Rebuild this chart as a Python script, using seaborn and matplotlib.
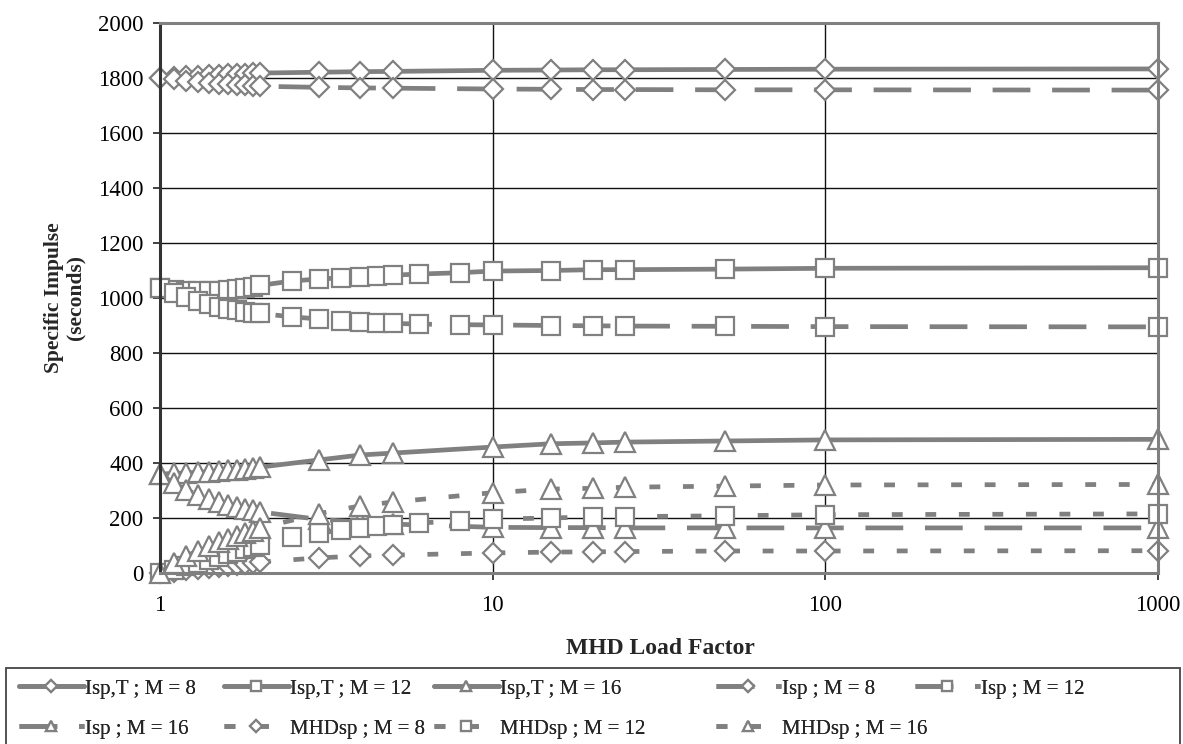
import numpy as np
import pandas as pd
import matplotlib
matplotlib.use("Agg")
import matplotlib.pyplot as plt
import seaborn as sns
from matplotlib.patches import Rectangle

# ---------------- data ----------------
x_m8 = [1, 1.1, 1.2, 1.3, 1.4, 1.5, 1.6, 1.7, 1.8, 1.9, 2, 3, 4, 5, 10, 15, 20, 25, 50, 100, 1000]
x_m16 = x_m8
x_m12 = [1, 1.1, 1.2, 1.3, 1.4, 1.5, 1.6, 1.7, 1.8, 1.9, 2, 2.5, 3, 3.5, 4, 4.5, 5, 6, 8, 10, 15, 20, 25, 50, 100, 1000]

ispt_m8 = [1800, 1803, 1806, 1808, 1810, 1812, 1813, 1815, 1816, 1817, 1818, 1821, 1823, 1824, 1828, 1829, 1830, 1830, 1831, 1832, 1833]
isp_m8 = [1800, 1795, 1790, 1786, 1782, 1779, 1777, 1775, 1773, 1771, 1770, 1766, 1764, 1763, 1760, 1759, 1758, 1758, 1757, 1757, 1756]
mhd_m8 = [0, 5, 10, 14, 18, 22, 26, 29, 33, 36, 40, 55, 62, 65, 73, 76, 77, 78, 80, 80, 81]

ispt_m12 = [1035, 1030, 1027, 1025, 1025, 1026, 1029, 1032, 1036, 1041, 1046, 1062, 1069, 1073, 1077, 1080, 1083, 1087, 1092, 1098, 1100, 1103, 1103, 1105, 1108, 1110]
isp_m12 = [1035, 1018, 1002, 988, 977, 968, 961, 955, 950, 947, 944, 931, 924, 917, 913, 910, 908, 905, 903, 902, 900, 899, 898, 897, 896, 895]
mhd_m12 = [0, 12, 25, 37, 48, 58, 68, 77, 86, 94, 102, 131, 145, 156, 164, 170, 175, 182, 189, 196, 200, 204, 205, 208, 212, 215]

ispt_m16 = [360, 362, 364, 366, 368, 371, 373, 376, 379, 382, 385, 411, 429, 436, 458, 470, 473, 476, 480, 484, 486]
isp_m16 = [360, 327, 302, 285, 270, 258, 248, 240, 234, 228, 222, 195, 185, 178, 166, 165, 165, 164, 164, 164, 164]
mhd_m16 = [0, 35, 62, 81, 98, 113, 125, 136, 145, 154, 163, 216, 244, 258, 292, 305, 308, 312, 316, 320, 322]

series_labels = ["Isp,T ; M = 8", "Isp,T ; M = 12", "Isp,T ; M = 16",
                 "Isp ; M = 8", "Isp ; M = 12", "Isp ; M = 16",
                 "MHDsp ; M = 8", "MHDsp ; M = 12", "MHDsp ; M = 16"]

x_ticks = [1, 10, 100, 1000]
x_ticklabels = ["1", "10", "100", "1000"]
y_ticks = [0, 200, 400, 600, 800, 1000, 1200, 1400, 1600, 1800, 2000]

# ---------------- style ----------------
sns.set_theme(style="white")
plt.rcParams['font.family'] = ['Liberation Serif', 'DejaVu Serif']

GREY = "#808080"
LW = 3.4
solid = "-"
dashed = (0, (8.0, 4.6))
dotted = (0, (2.3, 4.8))

fig = plt.figure(figsize=(11.83, 7.44), dpi=100)
ax = fig.add_axes([160 / 1183, 1 - 573 / 744, (1158 - 160) / 1183, (573 - 23) / 744])

specs = [
    (x_m8, ispt_m8, "D", solid, 10.3),
    (x_m12, ispt_m12, "s", solid, 12.3),
    (x_m16, ispt_m16, "^", solid, 13.8),
    (x_m8, isp_m8, "D", dashed, 10.3),
    (x_m12, isp_m12, "s", dashed, 12.3),
    (x_m16, isp_m16, "^", dashed, 13.8),
    (x_m8, mhd_m8, "D", dotted, 10.3),
    (x_m12, mhd_m12, "s", dotted, 12.3),
    (x_m16, mhd_m16, "^", dotted, 13.8),
]

for (xs, ys, mk, ls, ms), lab in zip(specs, series_labels):
    df = pd.DataFrame({"x": xs, "y": ys})
    sns.lineplot(data=df, x="x", y="y", ax=ax, color=GREY, linewidth=LW,
                 linestyle=ls, marker=mk, markersize=ms,
                 markerfacecolor="white", markeredgecolor=GREY,
                 markeredgewidth=1.6, label=lab, errorbar=None, sort=False,
                 legend=True, clip_on=False)

ax.set_xscale("log")
ax.set_xlim(1, 1000)
ax.set_ylim(0, 2000)
ax.set_xticks(x_ticks)
ax.set_xticklabels(x_ticklabels)
ax.xaxis.set_minor_locator(matplotlib.ticker.NullLocator())
ax.set_yticks(y_ticks)
ax.tick_params(axis="both", which="major", direction="out", length=5,
               width=1.2, color="#222222", labelsize=16.5, labelcolor="black")
ax.tick_params(axis="y", pad=7, left=True)
ax.tick_params(axis="x", pad=11, bottom=True)

ax.grid(True, which="major", axis="both", color="#111111", linewidth=1.0)
ax.set_axisbelow(True)

for side in ["top", "right", "bottom"]:
    ax.spines[side].set_color(GREY)
    ax.spines[side].set_linewidth(2.2)
ax.spines["left"].set_color("#333333")
ax.spines["left"].set_linewidth(2.2)

ax.set_xlabel("MHD Load Factor", fontsize=17, fontweight="bold")
ax.xaxis.set_label_coords(0.501, -0.119)
ax.xaxis.label.set_va("top")
ax.set_ylabel("Specific Impulse\n(seconds)", fontsize=15.5, fontweight="bold",
              linespacing=1.1)
ax.yaxis.set_label_coords(-0.075, 0.5)

handles, labels = ax.get_legend_handles_labels()
ax.get_legend().remove()

# legend frame
fig.patches.append(Rectangle((6 / 1183, -0.01), 1174 / 1183, (744 - 668) / 744 + 0.01,
                             transform=fig.transFigure, fill=False,
                             edgecolor="#444444", linewidth=1.3))

# legend laid out row by row, one legend per column at the reference positions
col_members = [[0, 5], [1, 6], [2, 7], [3, 8], [4]]
col_text_x = [86, 291, 501, 783, 982]
for members, tx in zip(col_members, col_text_x):
    leg = fig.legend([handles[i] for i in members], [labels[i] for i in members],
                     ncol=1, loc="upper left",
                     bbox_to_anchor=((tx - 67) / 1183, 1 - 679 / 744), frameon=False,
                     fontsize=15, handlelength=3.1, handletextpad=0.05,
                     markerscale=0.55, numpoints=1,
                     labelspacing=0.98, borderaxespad=0.0, borderpad=0.0)
    fig.add_artist(leg)

fig.savefig("out.png", dpi=100)
